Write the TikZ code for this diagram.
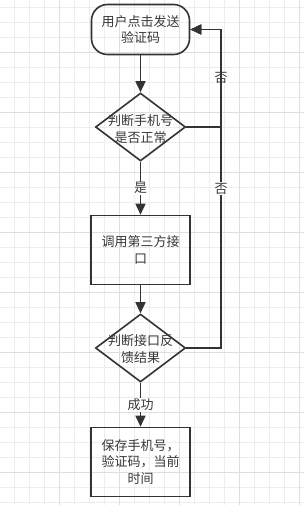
\documentclass[tikz,border=0pt]{standalone}
\usepackage{fontspec}
\newfontfamily\cjk{Noto Sans CJK SC}
\usetikzlibrary{shapes.geometric,arrows.meta}

\begin{document}
\begin{tikzpicture}[x=1pt,y=-1pt,
  gridminor/.style={draw=black!7,line width=1pt},
  gridmajor/.style={draw=black!13,line width=1pt},
  txt/.style={font=\cjk\fontsize{13}{16.5}\selectfont,text=black!78,align=center},
  proc/.style={txt,draw=black!80,line width=1.6pt,minimum width=99pt,minimum height=69pt},
  term/.style={proc,rounded corners=16pt,minimum width=98pt,minimum height=50pt},
  decision/.style={diamond,draw=black!80,line width=1.6pt,minimum width=90pt,minimum height=68pt,inner sep=0pt},
  flow/.style={draw=black!80,line width=1.6pt,-{Triangle[length=11pt,width=10pt]}},
  lbl/.style={txt,fill=white,inner sep=1pt}]
\fill[white] (0,0) rectangle (304,505);
\useasboundingbox (0,0) rectangle (304,505);
\foreach \gx in {14.5,29.5,...,300} \draw[gridminor] (\gx,0)--(\gx,505);
\foreach \gy in {7.5,22.5,...,505} \draw[gridminor] (0,\gy)--(304,\gy);
\foreach \gx in {59.5,119.5,...,300} \draw[gridmajor] (\gx,0)--(\gx,505);
\foreach \gy in {52.5,112.5,...,505} \draw[gridmajor] (0,\gy)--(304,\gy);

\node[term] (start) at (140.5,29.5) {用户点击发送\\验证码};
\node[decision,label={[txt,yshift=-2pt]center:判断手机号\\是否正常}] (chk) at (140.5,127) {};
\node[proc] (api) at (140.5,250) {调用第三方接\\口};
\node[decision,label={[txt,yshift=-1pt]center:判断接口反\\馈结果}] (res) at (140.5,348) {};
\node[proc] (save) at (140.5,462) {保存手机号，\\验证码，当前\\时间};
\coordinate (rail) at (221,29.5);

\draw[flow] (start) -- (chk);
\draw[flow] (chk) -- node[lbl] (yes) {是} (api);
\draw[flow] (api) -- (res);
\draw[flow] (res) -- node[lbl] (ok) {成功} (save);
\draw[flow] (chk.east) -| node[lbl,pos=0.75] (no1) {否} (rail) -- (start.east);
\draw[flow] (res.east) -| node[lbl,pos=0.75] (no2) {否} (rail) -- (start.east);
\end{tikzpicture}
\end{document}
